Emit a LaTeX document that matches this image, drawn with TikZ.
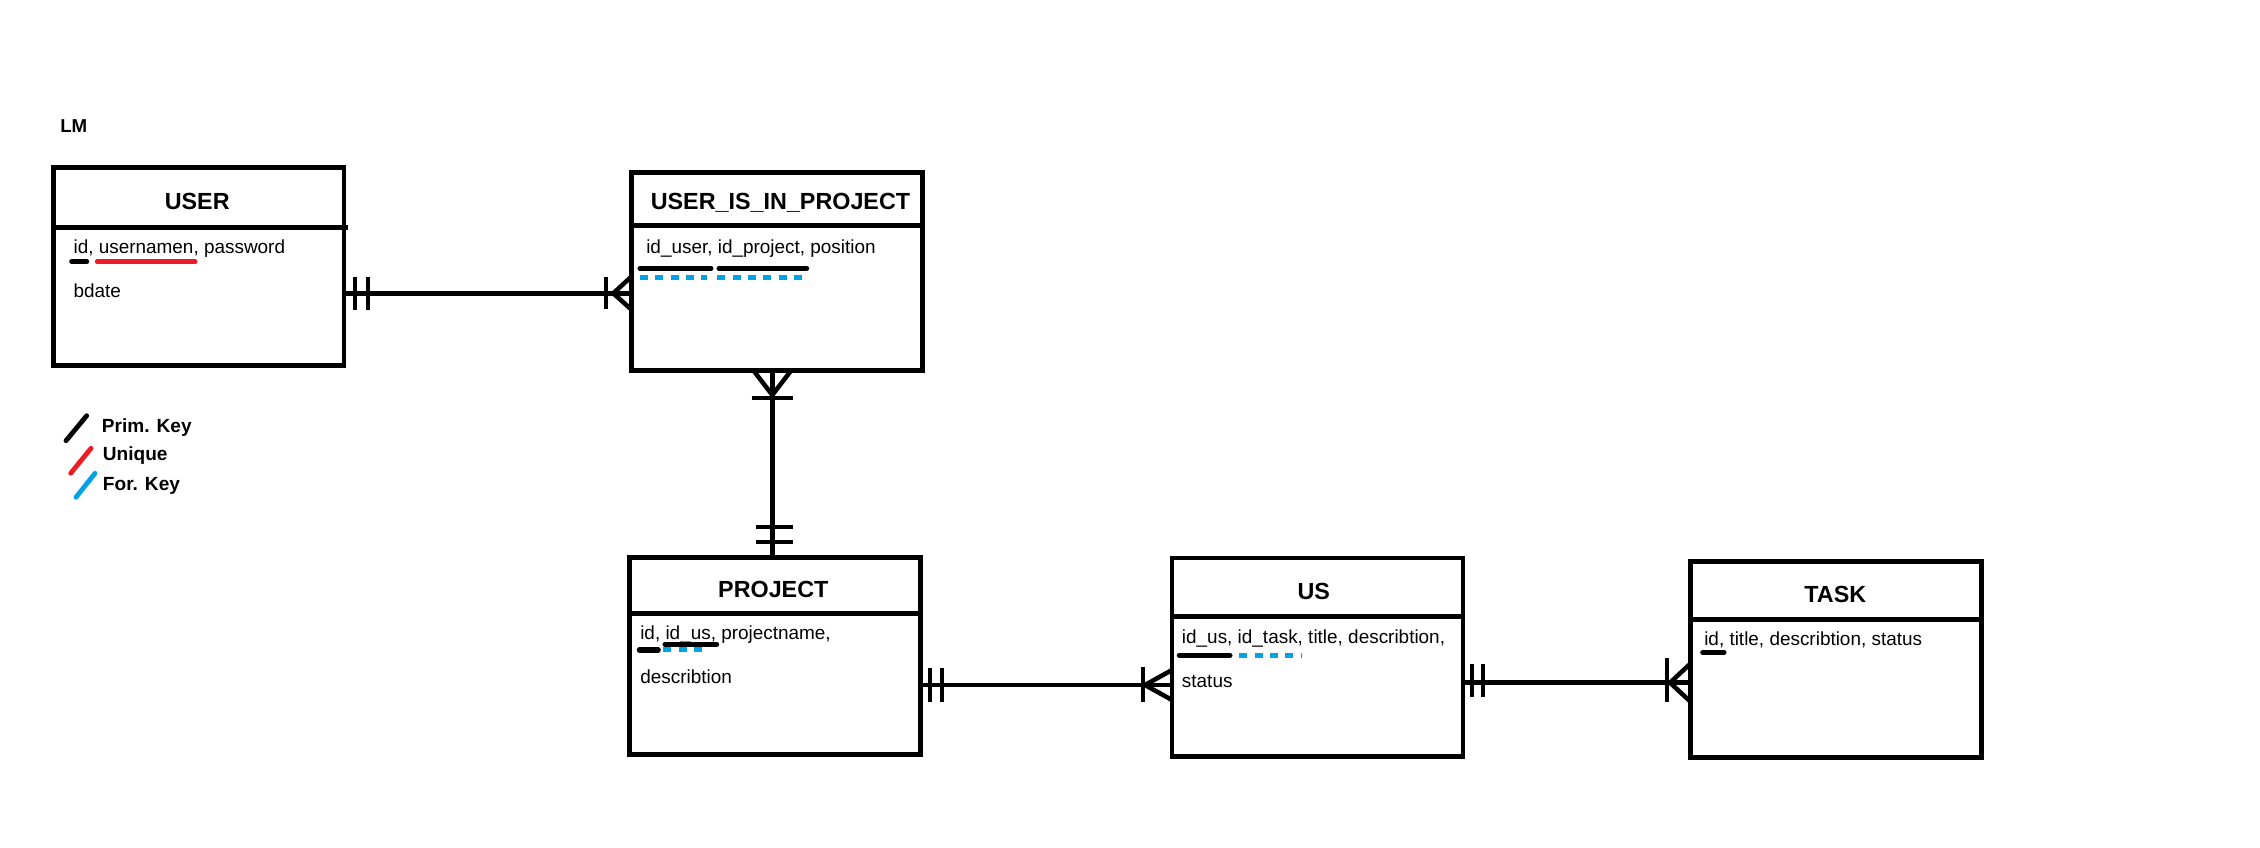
\documentclass[tikz,border=0pt]{standalone}
\usepackage{fontspec}
\setmainfont{Liberation Sans}
\usetikzlibrary{fit,calc}
\definecolor{pred}{RGB}{237,28,36}
\definecolor{pblue}{RGB}{0,162,232}
\begin{document}
\begin{tikzpicture}[x=0.75pt,y=-0.75pt,
  entity/.style={draw, line width=3.6pt, inner sep=0pt, outer sep=0pt},
  hdrline/.style={line width=3.6pt},
  etitle/.style={font=\fontsize{17.5}{20}\selectfont\bfseries, inner sep=0pt, anchor=base},
  attr/.style={font=\fontsize{14.2}{17}\selectfont, inner sep=0pt, anchor=base west},
  legtext/.style={font=\fontsize{14.3}{17}\selectfont\bfseries, inner sep=0pt, anchor=base west},
  conn/.style={line width=3.4pt},
  barline/.style={line width=3pt},
  pkline/.style={line width=3.8pt, line cap=round},
  uqline/.style={line width=3.8pt, line cap=round, draw=pred},
  fkline/.style={line width=3.5pt, draw=pblue, dash pattern=on 6pt off 5.5pt},
  legslash/.style={line width=3.6pt, line cap=round},
]
\useasboundingbox (0,0) rectangle (2260,848);
\fill[white] (0,0) rectangle (2260,848);

% heading
\node[legtext, font=\fontsize{14}{17}\selectfont\bfseries] (lm) at (60,132.3) {LM};

% ---------- entities ----------
\coordinate (u1) at (53.5,167.2);  \coordinate (u2) at (344,365.5);
\node[entity, fit=(u1)(u2)] (user) {};
\draw[hdrline] (53.5,227.5) -- (348.3,227.5);
\node[etitle] (usert) at (197.2,210) {USER};
\node[attr] (usera1) at (73.3,253.7) {id, usernamen, password};
\node[attr] (usera2) at (73.3,297.7) {bdate};
\draw[pkline] (71.7,261.7) -- (86.7,261.7);
\draw[uqline] (97.3,261.7) -- (195,261.7);

\coordinate (p1) at (631.3,172.8); \coordinate (p2) at (922.8,370.3);
\node[entity, fit=(p1)(p2)] (uip) {};
\draw[hdrline] (631.3,225.3) -- (922.8,225.3);
\node[etitle] (uipt) at (780.5,209.3) {USER\_IS\_IN\_PROJECT};
\node[attr] (uipa1) at (646,254) {id\_user, id\_project, position};
\draw[pkline] (640,268.3) -- (711,268.3);
\draw[pkline] (719,268.3) -- (806.7,268.3);
\draw[fkline] (640,277.7) -- (707.3,277.7);
\draw[fkline] (717.3,277.7) -- (808.3,277.7);

\coordinate (q1) at (629.5,557.2); \coordinate (q2) at (920.5,754.7);
\node[entity, fit=(q1)(q2)] (project) {};
\draw[hdrline] (629.5,613.8) -- (920.5,613.8);
\node[etitle] (projectt) at (773.3,597.3) {PROJECT};
\node[attr] (projecta1) at (640,639.3) {id, id\_us, projectname,};
\node[attr] (projecta2) at (640,683.3) {describtion};
\draw[pkline] (639.3,650) -- (658.3,650);
\draw[pkline] (665,644.3) -- (716.7,644.3);
\draw[fkline] (663.3,649.3) -- (708.3,649.3);

\coordinate (s1) at (1172,558); \coordinate (s2) at (1463,756.7);
\node[entity, fit=(s1)(s2)] (us) {};
\draw[hdrline] (1172,616.2) -- (1463,616.2);
\node[etitle] (ust) at (1313.8,599.3) {US};
\node[attr] (usa1) at (1181.7,643.3) {id\_us, id\_task, title, describtion,};
\node[attr] (usa2) at (1181.7,687.3) {status};
\draw[pkline] (1179.3,655.3) -- (1230,655.3);
\draw[fkline] (1239.3,655.3) -- (1301.7,655.3);

\coordinate (t1) at (1690.8,561.3); \coordinate (t2) at (1981.3,757.5);
\node[entity, fit=(t1)(t2)] (task) {};
\draw[hdrline] (1690.8,619.2) -- (1981.3,619.2);
\node[etitle] (taskt) at (1835.3,602.3) {TASK};
\node[attr] (taska1) at (1704,645.7) {id, title, describtion, status};
\draw[pkline] (1702.7,652.3) -- (1724,652.3);

% ---------- connectors ----------
% USER -- USER_IS_IN_PROJECT
\coordinate (c1) at (0,293.3);
\draw[conn] (user.east |- c1) -- (uip.west |- c1);
\draw[barline] (355,277) -- (355,310.5);
\draw[barline] (368.3,277) -- (368.3,310.5);
\draw[barline] (606,276.7) -- (606,309.5);
\draw[conn] (631.3,276.7) -- (613.3,293.3) -- (631.3,309.5);

% USER_IS_IN_PROJECT -- PROJECT
\coordinate (c2) at (772.3,0);
\draw[conn] (uip.south -| c2) -- (project.north -| c2);
\draw[conn] (753.3,370.3) -- (772.3,395) -- (791.3,370.3);
\draw[barline] (751.7,398.3) -- (793.3,398.3);
\draw[barline] (756,526.7) -- (792.7,526.7);
\draw[barline] (756,541.7) -- (792.7,541.7);

% PROJECT -- US
\coordinate (c3) at (0,685);
\draw[conn] (project.east |- c3) -- (us.west |- c3);
\draw[barline] (930,668.3) -- (930,701.7);
\draw[barline] (941.7,668.3) -- (941.7,701.7);
\draw[barline] (1142.7,667) -- (1142.7,702);
\draw[conn] (1172,670) -- (1145,685) -- (1172,700);

% US -- TASK
\coordinate (c4) at (0,682.7);
\draw[conn] (us.east |- c4) -- (task.west |- c4);
\draw[barline] (1471.7,664) -- (1471.7,697);
\draw[barline] (1483.3,664) -- (1483.3,697);
\draw[barline] (1666.7,658.3) -- (1666.7,702);
\draw[conn] (1690.8,663.3) -- (1670,682.7) -- (1690.8,702);

% ---------- legend ----------
\draw[legslash] (86.7,415.7) -- (66,440.7);
\draw[legslash, pred] (91,448.3) -- (70.7,473.3);
\draw[legslash, pblue] (95,473.3) -- (76,497.3);
\node[legtext] (lpk) at (101.7,432.3) {Prim. Key};
\node[legtext] (luq) at (102.7,460) {Unique};
\node[legtext] (lfk) at (102.7,490) {For. Key};
\end{tikzpicture}
\end{document}
